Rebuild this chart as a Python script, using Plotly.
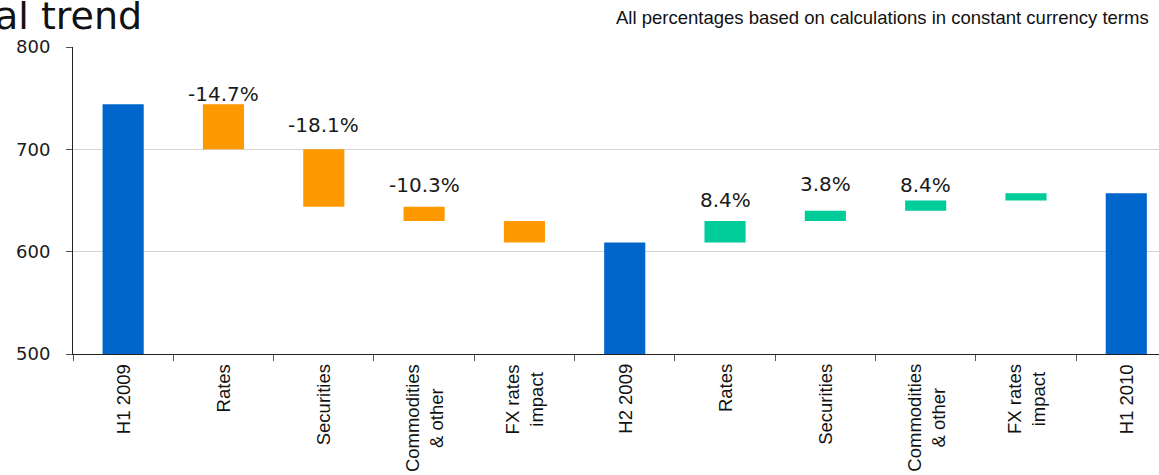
import numpy as np
import plotly.graph_objects as go

# Waterfall categories (tick labels) and values
categories = ["H1 2009", "Rates", "Securities", "Commodities<br>& other", "FX rates<br>impact",
              "H2 2009", "Rates", "Securities", "Commodities<br>& other", "FX rates<br>impact",
              "H1 2010"]
measures = ["absolute", "relative", "relative", "relative", "relative",
            "total", "relative", "relative", "relative", "relative", "total"]
values = [744, -44, -56, -14, -21, 0, 21, 10, 10, 7, 0]
pct_labels = ["", "-14.7%", "-18.1%", "-10.3%", "", "", "8.4%", "3.8%", "8.4%", "", ""]

# vertical offset (px) of each percentage label above its bar
label_shift = [0, -4, 10, 8, 0, 0, 7, 13, 2, 0, 0]

BLUE, ORANGE, GREEN = "#0066CC", "#FF9900", "#00CC99"
VERDANA_LIKE = "DejaVu Sans"
ARIAL_LIKE = "Liberation Sans, Arial"

x = np.arange(len(categories))
boundaries = np.arange(len(categories) + 1) - 0.5

# top edge of each bar from the running level
tops = []
level = 0
for m, v in zip(measures, values):
    if m == "absolute":
        level = v
        tops.append(level)
    elif m == "relative":
        prev = level
        level += v
        tops.append(max(prev, level))
    else:
        tops.append(level)

fig = go.Figure(go.Waterfall(
    x=x,
    y=values,
    measure=measures,
    width=0.41,
    increasing=dict(marker=dict(color=GREEN)),
    decreasing=dict(marker=dict(color=ORANGE)),
    totals=dict(marker=dict(color=BLUE)),
    connector=dict(visible=False),
    showlegend=False,
))

annotations = []
for xi, top, txt, sh in zip(x, tops, pct_labels, label_shift):
    if txt:
        annotations.append(dict(
            x=xi, y=top, xref="x", yref="y", text=txt, showarrow=False,
            xanchor="center", yanchor="bottom", yshift=sh,
            font=dict(family=VERDANA_LIKE, size=20, color="#1a1a1a"),
        ))

# category labels, rotated and centred line by line under each bar
for xi, name in zip(x, categories):
    annotations.append(dict(
        x=xi, y=0, xref="x", yref="paper", text=name, showarrow=False,
        textangle=-90, align="center", xanchor="center", yanchor="top",
        yshift=-8,
        font=dict(family=ARIAL_LIKE, size=18.5, color="#111111"),
    ))

# heading (runs off the left edge) and the note at the top right
annotations.append(dict(
    x=0, y=1, xref="paper", yref="paper", text="al trend", showarrow=False,
    xanchor="left", yanchor="bottom", xshift=-80, yshift=7,
    font=dict(family=VERDANA_LIKE, size=38, color="#111111"),
))
annotations.append(dict(
    x=1, y=1, xref="paper", yref="paper",
    text="All percentages based on calculations in constant currency terms",
    showarrow=False, xanchor="right", yanchor="top", xshift=-8, yshift=42,
    font=dict(family=ARIAL_LIKE, size=18.5, color="#111111"),
))

fig.update_layout(
    width=1159, height=475,
    margin=dict(l=73, r=0, t=47, b=121, autoexpand=False),
    paper_bgcolor="white", plot_bgcolor="white",
    annotations=annotations,
    xaxis=dict(
        range=[-0.5, 10.326],
        tickmode="array", tickvals=boundaries, showticklabels=False,
        ticks="outside", ticklen=6, tickcolor="#555555",
        showline=True, linecolor="#222222", linewidth=1,
        showgrid=False, zeroline=False,
    ),
    yaxis=dict(
        range=[500, 800], tickvals=[500, 600, 700, 800],
        ticks="outside", ticklen=6, tickcolor="#555555",
        ticklabelstandoff=12,
        showline=True, linecolor="#222222", linewidth=1,
        showgrid=True, gridcolor="#d4d4d4", gridwidth=1,
        zeroline=False,
        tickfont=dict(family=VERDANA_LIKE, size=18, color="#1a1a1a"),
    ),
)

fig.write_html("out.html")
